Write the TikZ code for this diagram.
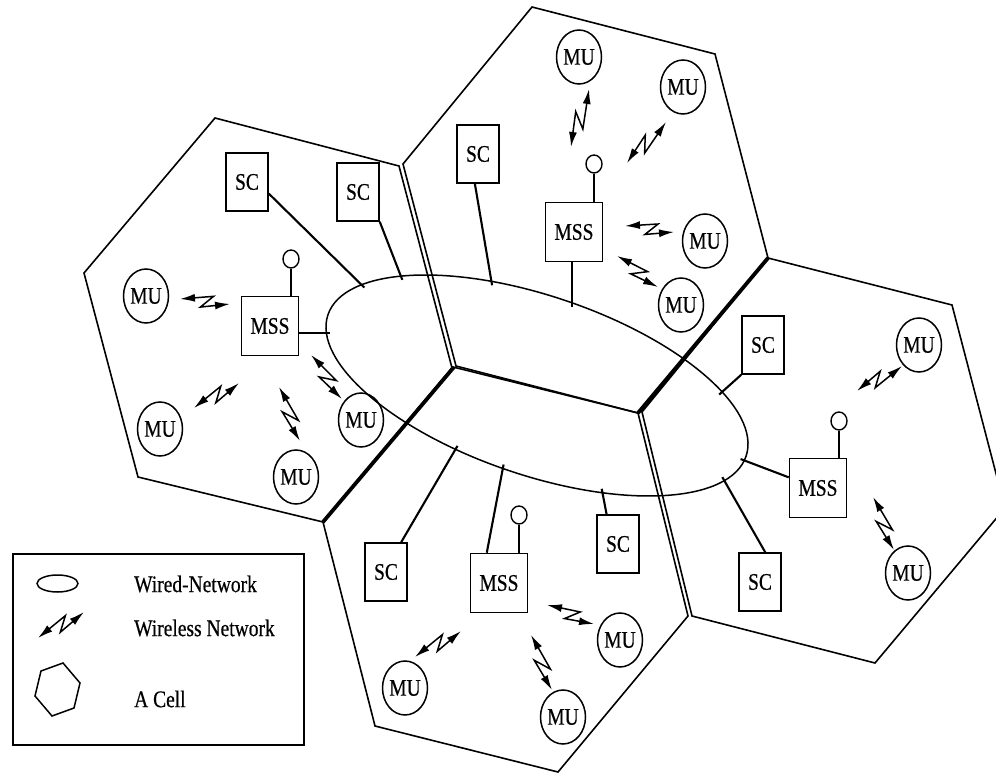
\documentclass[tikz,border=0pt]{standalone}
\usepackage{fontspec}
\usepackage{graphicx}
\setmainfont{Liberation Serif}[FakeBold=0.6]
\usetikzlibrary{shapes.geometric,arrows.meta,calc}
\newcommand\tx[1]{\scalebox{1}[1.22]{#1}}
\newcommand\wls[2]{%
  \coordinate (wlA) at (#1);\coordinate (wlB) at (#2);
  \draw[wire] (wlA) -- ($(wlA)!0.66!(wlB)!6pt!90:(wlB)$) -- ($(wlA)!0.42!(wlB)!6pt!-90:(wlB)$) -- (wlB);}
\begin{document}
\begin{tikzpicture}[x=1pt,y=-1pt,
  font=\fontsize{19.5}{21}\selectfont,
  cell/.style={line width=1.6pt,line join=miter},
  thickedge/.style={line width=3.8pt},
  net/.style={line width=1.5pt},
  link/.style={line width=2.1pt},
  mu/.style={draw,ellipse,line width=1.5pt,minimum width=45pt,minimum height=54pt,inner sep=0pt},
  scbox/.style={draw,rectangle,line width=1.5pt,minimum width=42pt,minimum height=58pt,inner sep=0pt},
  mssbox/.style={scbox,minimum width=57pt,minimum height=59pt},
  ant/.style={draw,ellipse,line width=1.4pt,minimum width=16pt,minimum height=18pt,inner sep=0pt},
  wire/.style={line width=1.5pt,arrows={Latex[length=15pt,width=8pt]-Latex[length=15pt,width=8pt]}}
]
\useasboundingbox (0,0) rectangle (996,775);
\begin{scope}
\clip (0,0) rectangle (996,775);
% cells
\draw[cell] (215,118)--(399,166)--(452,368)--(323,522)--(138,477)--(84,273)--cycle;
\draw[cell] (403,164)--(532,7)--(715,54)--(768,258)--(638,413)--(456,366)--cycle;
\draw[cell] (323,522)--(453,367)--(638,413)--(688,616)--(558,772)--(375,726)--cycle;
\draw[cell] (768,258)--(952,305)--(1005,508)--(875,663)--(692,616)--(642,412)--cycle;
\draw[thickedge] (454,367)--(323,522);
\draw[thickedge] (768,258)--(638,413);
\end{scope}
% wired network
\begin{scope}[shift={(537,385.5)},rotate=-18.7]
\draw[net] (0,0) ellipse [x radius=220.7, y radius=89.6];
\coordinate (e1) at (-154.1:220.7 and 89.6);
\coordinate (e2) at (-138.0:220.7 and 89.6);
\coordinate (e3) at (-110.3:220.7 and 89.6);
\coordinate (e4) at (-88.4:220.7 and 89.6);
\coordinate (e5) at (168.3:220.7 and 89.6);
\coordinate (e6) at (-36.5:220.7 and 89.6);
\coordinate (e7) at (2.9:220.7 and 89.6);
\coordinate (e8) at (19.6:220.7 and 89.6);
\coordinate (e9) at (104.9:220.7 and 89.6);
\coordinate (e10) at (91.5:220.7 and 89.6);
\coordinate (e11) at (64.1:220.7 and 89.6);
\end{scope}
% left cell
\node[scbox] (sc1) at (247,182) {\tx{SC}};
\node[scbox] (sc2) at (358,192) {\tx{SC}};
\node[mssbox] (mss1) at (270,326) {\tx{MSS}};
\node[ant] (ant1) at (291,259) {};
\node[mu] (mu1a) at (146,296) {\tx{MU}};
\node[mu] (mu1b) at (160,429) {\tx{MU}};
\node[mu] (mu1c) at (296,477) {\tx{MU}};
\node[mu] (mu1d) at (361,420) {\tx{MU}};
% top cell
\node[scbox] (sc3) at (478,154) {\tx{SC}};
\node[mssbox] (mss2) at (574,232) {\tx{MSS}};
\node[ant] (ant2) at (594,164) {};
\node[mu] (mu2a) at (579,57) {\tx{MU}};
\node[mu] (mu2b) at (683,87) {\tx{MU}};
\node[mu] (mu2c) at (705,241) {\tx{MU}};
\node[mu] (mu2d) at (681,305) {\tx{MU}};
% right cell
\node[scbox] (sc4) at (763,345) {\tx{SC}};
\node[scbox] (sc5) at (760,582) {\tx{SC}};
\node[mssbox] (mss3) at (818,488) {\tx{MSS}};
\node[ant] (ant3) at (839,421) {};
\node[mu] (mu4a) at (919,345) {\tx{MU}};
\node[mu] (mu4b) at (908,573) {\tx{MU}};
% bottom cell
\node[scbox] (sc6) at (386,572) {\tx{SC}};
\node[scbox] (sc7) at (618,544) {\tx{SC}};
\node[mssbox] (mss4) at (499,583) {\tx{MSS}};
\node[ant] (ant4) at (519,515) {};
\node[mu] (mu3a) at (405,688) {\tx{MU}};
\node[mu] (mu3b) at (563,717) {\tx{MU}};
\node[mu] (mu3c) at (620,640) {\tx{MU}};
% antenna stems
\foreach \a/\m in {ant1/mss1,ant2/mss2,ant3/mss3,ant4/mss4}
  \draw[net] (\a.south) -- (\a.south |- \m.north);
% wired links
\draw[link] (sc1.-28) -- ($(e1)!-4pt!(sc1.-28)$);
\draw[link] (sc2.south east) -- ($(e2)!-4pt!(sc2.south east)$);
\draw[link] (sc3.-96) -- ($(e3)!-4pt!(sc3.-96)$);
\draw[link] (e4 |- mss2.south) -- ($(e4)+(0,4)$);
\draw[link] (mss1.east |- e5) -- ($(e5)+(4,0)$);
\draw[link] (sc4.south west) -- ($(e6)!-4pt!(sc4.south west)$);
\draw[link] (mss3.160) -- ($(e7)!-4pt!(mss3.160)$);
\draw[link] (sc5.80) -- ($(e8)!-4pt!(sc5.80)$);
\draw[link] (sc6.63) -- ($(e9)!-4pt!(sc6.63)$);
\draw[link] (mss4.112) -- ($(e10)!-4pt!(mss4.112)$);
\draw[link] (sc7.111) -- ($(e11)!-4pt!(sc7.111)$);
% wireless links
\wls{180,299}{230,304}
\wls{311,355}{342,399}
\wls{194,408}{239,383}
\wls{279,387}{300,441}
\wls{589,89}{571,147}
\wls{666,122}{627,163}
\wls{625,226}{674,232}
\wls{617,256}{658,287}
\wls{902,366}{857,391}
\wls{873,497}{894,550}
\wls{415,657}{461,631}
\wls{531,635}{552,690}
\wls{547,605}{594,624}
% legend
\node[draw,line width=1.5pt,minimum width=291pt,minimum height=191pt,inner sep=0pt,anchor=north west] (legend) at (12,553) {};
\draw[net] (57.5,583.5) ellipse [x radius=20.5, y radius=8.5];
\wls{38,638}{84,612}
\draw[net] (63,663)--(80,683)--(74,708)--(52,716)--(35,696)--(41,671)--cycle;
\node[anchor=west,inner sep=0pt] (l1) at (134,584) {\tx{Wired-Network}};
\node[anchor=west,inner sep=0pt] (l2) at (134,628) {\tx{Wireless Network}};
\node[anchor=west,inner sep=0pt] (l3) at (134,699) {\tx{A Cell}};
\end{tikzpicture}
\end{document}
